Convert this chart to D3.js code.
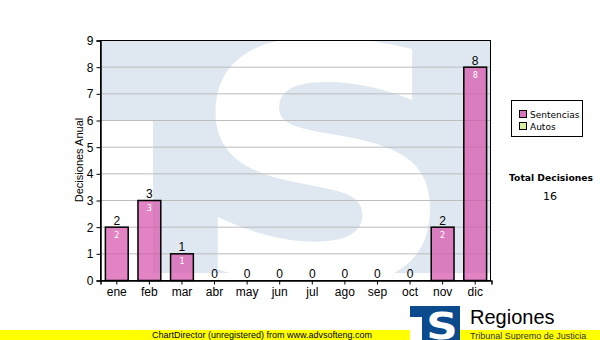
<!DOCTYPE html>
<html>
<head>
<meta charset="utf-8">
<script src="https://cdn.jsdelivr.net/npm/d3@7"></script>
<style>
body { margin: 0; background: #fff; }
svg { display: block; }
</style>
</head>
<body>
<svg class="chart"></svg>
<script>
var months = ["ene", "feb", "mar", "abr", "may", "jun", "jul", "ago", "sep", "oct", "nov", "dic"];
var sentencias = [2, 3, 1, 0, 0, 0, 0, 0, 0, 0, 2, 8];
var yTicks = [0, 1, 2, 3, 4, 5, 6, 7, 8, 9];
var legendItems = ["Sentencias", "Autos"];
var legendColors = ["#d873bd", "#d8f0a0"];
var total = 16;

var width = 600, height = 340;
var plot = { left: 100, right: 491, top: 40, bottom: 280 };

var svg = d3.select(".chart")
    .attr("width", width)
    .attr("height", height);

var x = d3.scaleBand()
    .domain(months)
    .range([plot.left, plot.right])
    .paddingInner(0.3)
    .paddingOuter(0.15);

var y = d3.scaleLinear()
    .domain([0, 9])
    .range([plot.bottom, plot.top]);

// watermark logo behind the plot
svg.append("clipPath").attr("id", "plotclip")
    .append("rect")
    .attr("x", plot.left).attr("y", plot.top)
    .attr("width", plot.right - plot.left).attr("height", plot.bottom - plot.top);

var wm = svg.append("g").attr("clip-path", "url(#plotclip)");
wm.append("rect")
    .attr("x", plot.left).attr("y", plot.top)
    .attr("width", plot.right - plot.left).attr("height", 233)
    .attr("fill", "#dfe8f1");
wm.append("rect")
    .attr("x", plot.left).attr("y", 120)
    .attr("width", 53).attr("height", 170)
    .attr("fill", "#fff");
wm.append("text")
    .attr("transform", "translate(323,282) scale(1.13,1)")
    .attr("text-anchor", "middle")
    .attr("font-family", "DejaVu Sans")
    .attr("font-weight", "bold")
    .attr("font-size", 330)
    .attr("fill", "#fff")
    .text("S");

// grid
svg.append("g")
    .selectAll("line")
    .data(yTicks.filter(function(d) { return d > 0 && d < 9; }))
    .enter().append("line")
    .attr("x1", plot.left).attr("x2", plot.right)
    .attr("y1", function(d) { return y(d) + 0.5; })
    .attr("y2", function(d) { return y(d) + 0.5; })
    .attr("stroke", "#bdbdbd")
    .attr("stroke-width", 1);

// plot border
svg.append("rect")
    .attr("x", plot.left + 0.5).attr("y", plot.top + 0.5)
    .attr("width", plot.right - plot.left - 1).attr("height", plot.bottom - plot.top)
    .attr("fill", "none")
    .attr("stroke", "#000");

// bars
var bars = svg.append("g");
bars.selectAll("rect")
    .data(sentencias)
    .enter().append("rect")
    .attr("x", function(d, i) { return x(months[i]) + 0.5; })
    .attr("y", function(d) { return y(d) + 0.5; })
    .attr("width", x.bandwidth())
    .attr("height", function(d) { return y(0) - y(d); })
    .attr("fill", "rgba(214, 80, 170, 0.7)")
    .attr("stroke", "#000")
    .attr("stroke-width", 1.5)
    .style("display", function(d) { return d > 0 ? null : "none"; });

bars.selectAll(".top-label")
    .data(sentencias)
    .enter().append("text")
    .attr("class", "top-label")
    .attr("x", function(d, i) { return x(months[i]) + x.bandwidth() / 2 + 0.5; })
    .attr("y", function(d) { return y(d) - 2; })
    .attr("text-anchor", "middle")
    .attr("font-family", "Liberation Sans, Arial")
    .attr("font-size", 12)
    .attr("fill", "#000")
    .text(function(d) { return d; });

bars.selectAll(".in-label")
    .data(sentencias)
    .enter().append("text")
    .attr("class", "in-label")
    .attr("x", function(d, i) { return x(months[i]) + x.bandwidth() / 2 + 0.5; })
    .attr("y", function(d) { return y(d) + 11; })
    .attr("text-anchor", "middle")
    .attr("font-family", "DejaVu Sans")
    .attr("font-size", 8)
    .attr("fill", "#fff")
    .style("display", function(d) { return d > 0 ? null : "none"; })
    .text(function(d) { return d; });

// axes
var yAxis = svg.append("g")
    .attr("transform", "translate(" + (plot.left + 0.5) + ",0.5)")
    .call(d3.axisLeft(y).tickValues(yTicks).tickSize(4).tickPadding(3));
var xAxis = svg.append("g")
    .attr("transform", "translate(0.5," + (plot.bottom + 0.5) + ")")
    .call(d3.axisBottom(x).tickSize(4).tickPadding(3));
[yAxis, xAxis].forEach(function(a) {
    a.select(".domain").attr("stroke", "#000").attr("stroke-width", 1.5);
    a.selectAll(".tick line").attr("stroke", "#000");
    a.selectAll("text")
        .attr("font-family", "Liberation Sans, Arial")
        .attr("font-size", 12)
        .attr("fill", "#000");
});

svg.append("text")
    .attr("transform", "translate(83,160) rotate(-90)")
    .attr("text-anchor", "middle")
    .attr("font-family", "Liberation Sans, Arial")
    .attr("font-size", 11)
    .text("Decisiones Anual");

// legend
var legend = svg.append("g").attr("transform", "translate(511,100)");
legend.append("rect")
    .attr("x", 0.5).attr("y", 0.5)
    .attr("width", 71).attr("height", 36)
    .attr("fill", "#fff")
    .attr("stroke", "#000");
var li = legend.selectAll(".item")
    .data(legendItems)
    .enter().append("g")
    .attr("transform", function(d, i) { return "translate(8," + (10 + i * 12) + ")"; });
li.append("rect")
    .attr("x", 0.5).attr("y", 0.5)
    .attr("width", 7).attr("height", 7)
    .attr("fill", function(d, i) { return legendColors[i]; })
    .attr("stroke", "#000");
li.append("text")
    .attr("x", 11).attr("y", 8)
    .attr("font-family", "DejaVu Sans")
    .attr("font-size", 9)
    .text(function(d) { return d; });

svg.append("text")
    .attr("x", 551).attr("y", 181)
    .attr("text-anchor", "middle")
    .attr("font-family", "DejaVu Sans")
    .attr("font-weight", "bold")
    .attr("font-size", 9.2)
    .text("Total Decisiones");
svg.append("text")
    .attr("x", 550).attr("y", 200)
    .attr("text-anchor", "middle")
    .attr("font-family", "DejaVu Sans")
    .attr("font-size", 11)
    .text(total);

// footer band and logo
svg.append("rect")
    .attr("x", 0).attr("y", 330)
    .attr("width", width).attr("height", 10)
    .attr("fill", "#ffff00");
svg.append("text")
    .attr("x", 262).attr("y", 338)
    .attr("text-anchor", "middle")
    .attr("font-family", "Liberation Sans, Arial")
    .attr("font-size", 9)
    .text("ChartDirector (unregistered) from www.advsofteng.com");

var logo = svg.append("g");
logo.append("rect")
    .attr("x", 410).attr("y", 306)
    .attr("width", 50).attr("height", 34)
    .attr("fill", "#0b4a8c");
logo.append("rect")
    .attr("x", 410).attr("y", 317)
    .attr("width", 12).attr("height", 23)
    .attr("fill", "#fff");
logo.append("text")
    .attr("transform", "translate(442,339) scale(1.15,1)")
    .attr("text-anchor", "middle")
    .attr("font-family", "DejaVu Sans")
    .attr("font-weight", "bold")
    .attr("font-size", 38)
    .attr("fill", "#fff")
    .text("S");
logo.append("text")
    .attr("x", 470).attr("y", 324)
    .attr("font-family", "Liberation Sans, Arial")
    .attr("font-size", 20)
    .attr("fill", "#000")
    .text("Regiones");
logo.append("text")
    .attr("x", 470).attr("y", 339)
    .attr("font-family", "Liberation Sans, Arial")
    .attr("font-size", 9)
    .attr("fill", "#333")
    .text("Tribunal Supremo de Justicia");
</script>
</body>
</html>
